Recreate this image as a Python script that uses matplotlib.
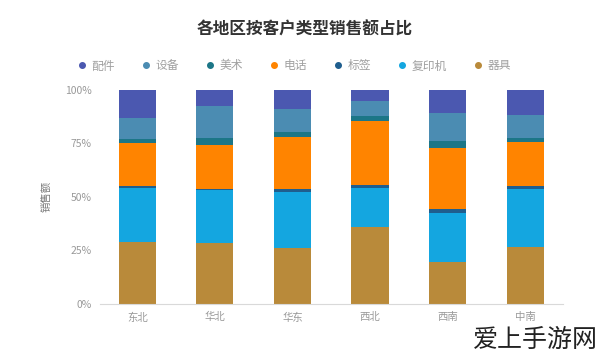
import numpy as np
import matplotlib.pyplot as plt
from matplotlib.lines import Line2D

plt.rcParams['font.family'] = ['Noto Sans CJK SC', 'DejaVu Sans']

regions = ['东北', '华北', '华东', '西北', '西南', '中南']
types = ['配件', '设备', '美术', '电话', '标签', '复印机', '器具']
colors = ['#4b58b0', '#4b8cb2', '#1c7687', '#ff8400', '#1f5e8e', '#14a6e0', '#b98a3a']

# shares in percent, stacked from bottom: 器具, 复印机, 标签, 电话, 美术, 设备, 配件
qiju = [29.0, 28.4, 26.0, 36.1, 19.8, 26.4]
fuyinji = [25.0, 24.6, 26.4, 17.9, 22.8, 27.4]
biaoqian = [1.0, 0.8, 1.1, 1.5, 1.6, 1.5]
dianhua = [20.2, 20.6, 24.5, 30.1, 28.5, 20.2]
meishu = [1.9, 3.1, 2.3, 2.0, 3.3, 2.0]
shebei = [9.7, 15.1, 10.7, 7.0, 13.1, 10.9]
peijian = [13.2, 7.4, 9.0, 5.4, 10.9, 11.6]

series = {'器具': qiju, '复印机': fuyinji, '标签': biaoqian, '电话': dianhua,
          '美术': meishu, '设备': shebei, '配件': peijian}

fig = plt.figure(figsize=(6, 3.57), dpi=100)
ax = fig.add_axes([0.1667, 0.1485, 0.772, 0.6])

x = np.arange(len(regions))
bottom = np.zeros(len(regions))
for name in ['器具', '复印机', '标签', '电话', '美术', '设备', '配件']:
    vals = np.array(series[name])
    ax.bar(x, vals, 0.48, bottom=bottom, color=colors[types.index(name)])
    bottom += vals

ax.set_xlim(-0.48, 5.49)
ax.set_ylim(0, 100)
ax.set_yticks([0, 25, 50, 75, 100])
ax.set_yticklabels(['0%', '25%', '50%', '75%', '100%'])
ax.set_xticks(x)
ax.set_xticklabels(regions)
ax.tick_params(length=0, labelsize=7.5, colors='#999999', pad=6)
for s in ['top', 'right', 'left']:
    ax.spines[s].set_visible(False)
ax.spines['bottom'].set_color('#d9d9d9')
ax.set_ylabel('销售额', fontsize=7.5, color='#777777', labelpad=10)

fig.text(0.507, 1 - 30 / 357, '各地区按客户类型销售额占比', ha='center', va='center',
         fontsize=12, fontweight='bold', color='#333333')

handles = [Line2D([], [], marker='o', linestyle='', markersize=4, color=c) for c in colors]
fig.legend(handles, types, loc='center', bbox_to_anchor=(0.49, 1 - 66 / 357), ncol=7,
           frameon=False, fontsize=8.5, labelcolor='#a0a0a0', handlelength=0.8,
           handletextpad=0.4, columnspacing=2.23)

fig.text(0.997, 1 - 340 / 357, '爱上手游网', ha='right', va='center',
         fontsize=18, color='#222222')

fig.savefig('out.png', dpi=100)
